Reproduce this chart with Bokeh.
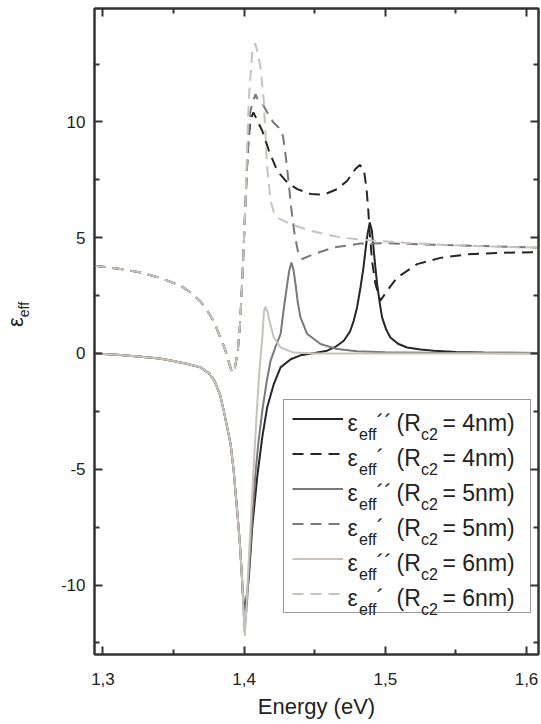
import math
from bokeh.plotting import figure
from bokeh.layouts import row
from bokeh.models import (Range1d, FixedTicker, LinearAxis, Legend, LegendItem, Label,
                          CustomJSTickFormatter)
from bokeh.embed import file_html
from bokeh.resources import INLINE

# ---------------- data ----------------
# shared left branch of the solid curves (eps'')
x_solid_left = [1.294, 1.31, 1.327, 1.34, 1.35, 1.36, 1.369, 1.375, 1.379, 1.383,
                1.3856, 1.388, 1.3904, 1.3925, 1.394, 1.3955, 1.397, 1.398, 1.399]
y_solid_left = [0.0, -0.05, -0.14, -0.22, -0.32, -0.45, -0.60, -0.85, -1.18, -1.80,
                -2.48, -3.2, -3.91, -5.0, -6.07, -7.1, -8.23, -9.2, -10.3]

# eps'' right branches
x_im_4 = [1.4003, 1.4015, 1.4033, 1.4057, 1.4092, 1.4128, 1.4163, 1.421, 1.4258, 1.433,
          1.4399, 1.45, 1.4588, 1.465, 1.4706, 1.475, 1.4776, 1.48, 1.4824, 1.4845,
          1.4859, 1.4875, 1.489, 1.4905, 1.4918, 1.493, 1.4942, 1.496, 1.4977, 1.5005,
          1.5036, 1.509, 1.5154, 1.525, 1.5343, 1.55, 1.5696, 1.59, 1.609]
y_im_4 = [-11.1, -10.6, -9.67, -7.52, -5.36, -3.63, -2.33, -1.32, -0.6, -0.25,
          -0.08, 0.02, 0.12, 0.3, 0.55, 0.95, 1.41, 2.0, 2.85, 3.7,
          4.44, 5.2, 5.66, 5.3, 4.44, 3.7, 3.0, 2.2, 1.56, 1.05,
          0.69, 0.42, 0.26, 0.17, 0.12, 0.07, 0.04, 0.03, 0.02]

x_im_5 = [1.4003, 1.402, 1.404, 1.406, 1.408, 1.41, 1.413, 1.416, 1.4187, 1.422,
          1.4258, 1.428, 1.4305, 1.432, 1.4335, 1.435, 1.4364, 1.438, 1.4399, 1.4447,
          1.4541, 1.4659, 1.48, 1.5, 1.53, 1.609]
y_im_5 = [-12.0, -10.8, -8.8, -6.9, -5.2, -3.9, -2.4, -1.2, -0.32, 0.25,
          0.84, 1.9, 3.0, 3.6, 3.93, 3.6, 3.0, 2.2, 1.56, 0.84,
          0.41, 0.19, 0.1, 0.05, 0.03, 0.01]

x_im_6 = [1.4005, 1.402, 1.4045, 1.407, 1.409, 1.4105, 1.412, 1.413, 1.414, 1.4151,
          1.4165, 1.418, 1.421, 1.4258, 1.4352, 1.45, 1.609]
y_im_6 = [-12.2, -10.4, -7.5, -4.6, -2.5, -1.0, 0.1, 0.8, 1.8, 2.02,
          1.8, 1.4, 0.69, 0.26, 0.04, 0.0, 0.0]

# shared left branch of the dashed curves (eps')
x_re_left = [1.294, 1.3125, 1.3267, 1.3408, 1.355, 1.3625, 1.3691, 1.374, 1.3786, 1.383,
             1.3868, 1.3895, 1.3915, 1.3935, 1.3955, 1.397, 1.398, 1.399, 1.4, 1.401]
y_re_left = [3.79, 3.65, 3.50, 3.26, 2.93, 2.62, 2.25, 1.84, 1.38, 0.7,
             0.12, -0.45, -0.83, -0.6, 0.1, 1.2, 2.3, 3.6, 5.1, 6.6]

x_re_4 = [1.402, 1.403, 1.4045, 1.4066, 1.409, 1.4128, 1.4175, 1.4234, 1.4305, 1.4376,
          1.447, 1.4564, 1.4659, 1.473, 1.4788, 1.4819, 1.4847, 1.4866, 1.4878, 1.489,
          1.4906, 1.493, 1.4965, 1.5013, 1.5084, 1.5225, 1.539, 1.5579, 1.5815, 1.609]
y_re_4 = [8.0, 9.1, 10.1, 10.41, 10.1, 9.62, 8.76, 7.89, 7.39, 7.10,
          6.89, 6.86, 7.10, 7.46, 7.97, 8.14, 7.97, 7.17, 6.31, 5.16,
          4.0, 3.0, 2.28, 2.71, 3.28, 3.86, 4.13, 4.28, 4.35, 4.38]

x_re_5 = [1.402, 1.403, 1.4045, 1.408, 1.4095, 1.4128, 1.4165, 1.4205, 1.4245, 1.4275,
          1.4295, 1.4315, 1.4333, 1.4357, 1.438, 1.4411, 1.4493, 1.4635, 1.4824, 1.5013,
          1.5343, 1.5696, 1.609]
y_re_5 = [8.0, 9.2, 10.5, 11.2, 11.0, 10.8, 10.4, 10.0, 9.75, 9.4,
          8.5, 7.4, 6.31, 5.16, 4.44, 4.08, 4.29, 4.58, 4.75, 4.76,
          4.70, 4.64, 4.57]

x_re_6 = [1.402, 1.4033, 1.4057, 1.4078, 1.4095, 1.4116, 1.4139, 1.4151, 1.4163, 1.4187,
          1.421, 1.4234, 1.4328, 1.447, 1.4682, 1.4918, 1.5225, 1.5579, 1.609]
y_re_6 = [8.6, 11.0, 13.0, 13.4, 13.0, 12.35, 10.92, 9.48, 8.03, 6.60,
          6.1, 5.87, 5.59, 5.30, 5.01, 4.87, 4.75, 4.65, 4.57]

x_ticks = [1.3, 1.4, 1.5, 1.6]
x_tick_labels = ["1,3", "1,4", "1,5", "1,6"]
x_minor = [1.35, 1.45, 1.55]
y_ticks = [-10, -5, 0, 5, 10]
y_tick_labels = ["-10", "-5", "0", "5", "10"]
y_minor = [-12.5, -7.5, -2.5, 2.5, 7.5, 12.5]

radii = ["4nm", "5nm", "6nm"]
colors = ["#262626", "#7a7878", "#c9c1ba"]

# ---------------- layout constants ----------------
FONT = "Liberation Sans"
AX = "#333333"
TXT = "#222222"
W, H = 540, 722
SIDE_W = 40                      # narrow strip on the left holding the y title
FRAME_LEFT, FRAME_RIGHT, FRAME_TOP, FRAME_BOTTOM = 94, 538, 8, 654

# ---------------- y-axis title strip ----------------
side = figure(width=SIDE_W, height=H, output_backend="svg", toolbar_location=None,
              x_axis_type=None, y_axis_type=None,
              x_range=Range1d(0, SIDE_W), y_range=Range1d(0, H),
              min_border=0, min_border_left=0, min_border_right=0,
              min_border_top=0, min_border_bottom=0,
              background_fill_color="white", border_fill_color="white")
side.grid.visible = False
side.outline_line_color = None
side.add_layout(Label(x=15, y=H - 356, text="ε", text_font=FONT, text_font_size="22px",
                      angle=math.pi / 2, text_color=TXT, text_baseline="alphabetic",
                      text_align="left"))
side.add_layout(Label(x=23, y=H - 345, text="eff", text_font=FONT, text_font_size="14px",
                      angle=math.pi / 2, text_color=TXT, text_baseline="alphabetic",
                      text_align="left"))

# ---------------- main figure ----------------
p = figure(width=W - SIDE_W, height=H, output_backend="svg", toolbar_location=None,
           x_range=Range1d(1.294, 1.6085), y_range=Range1d(-13.0, 14.9),
           min_border_left=FRAME_LEFT - SIDE_W, min_border_right=W - FRAME_RIGHT,
           min_border_top=FRAME_TOP, min_border_bottom=H - FRAME_BOTTOM,
           background_fill_color="white", border_fill_color="white")
p.xgrid.visible = False
p.ygrid.visible = False
p.outline_line_color = AX
p.outline_line_width = 2

p.xaxis.axis_label = "Energy (eV)"
p.xaxis.axis_label_text_font = FONT
p.xaxis.axis_label_text_font_size = "22px"
p.xaxis.axis_label_text_font_style = "normal"
p.xaxis.axis_label_text_color = TXT
p.xaxis.axis_label_standoff = 6


def style_axis(ax, ticks, minor, show_labels, standoff):
    ax.ticker = FixedTicker(ticks=ticks, minor_ticks=minor)
    ax.axis_line_color = AX
    ax.axis_line_width = 2
    ax.major_tick_line_color = AX
    ax.major_tick_line_width = 2
    ax.minor_tick_line_color = AX
    ax.minor_tick_line_width = 2
    ax.major_tick_in = 8
    ax.major_tick_out = 0
    ax.minor_tick_in = 5
    ax.minor_tick_out = 0
    ax.major_label_text_font = FONT
    ax.major_label_text_color = TXT
    ax.major_label_text_font_size = "17px"
    ax.major_label_standoff = standoff
    if not show_labels:
        ax.formatter = CustomJSTickFormatter(code="return ''")
        ax.major_label_standoff = 0


style_axis(p.xaxis[0], x_ticks, x_minor, True, 18)
p.xaxis[0].major_label_overrides = dict(zip(x_ticks, x_tick_labels))
style_axis(p.yaxis[0], y_ticks, y_minor, True, 9)
p.yaxis[0].major_label_overrides = dict(zip(y_ticks, y_tick_labels))

top_ax = LinearAxis()
style_axis(top_ax, x_ticks, x_minor, False, 0)
p.add_layout(top_ax, "above")
right_ax = LinearAxis()
style_axis(right_ax, y_ticks, y_minor, False, 0)
p.add_layout(right_ax, "right")

# ---------------- curves ----------------
solid_x = [x_solid_left + x_im_4, x_solid_left + x_im_5, x_solid_left + x_im_6]
solid_y = [y_solid_left + y_im_4, y_solid_left + y_im_5, y_solid_left + y_im_6]
dash_x = [x_re_left + x_re_4, x_re_left + x_re_5, x_re_left + x_re_6]
dash_y = [y_re_left + y_re_4, y_re_left + y_re_5, y_re_left + y_re_6]

items = []
for i in range(3):
    rs = p.line(solid_x[i], solid_y[i], line_color=colors[i], line_width=2)
    rd = p.line(dash_x[i], dash_y[i], line_color=colors[i], line_width=2, line_dash="11 7")
    items.append(LegendItem(label=" ", renderers=[rs]))
    items.append(LegendItem(label=" ", renderers=[rd]))

legend = Legend(items=items, location=(189, 41), orientation="vertical",
                padding=8, spacing=14, glyph_width=51, glyph_height=21,
                label_height=21, label_width=176, label_standoff=3,
                label_text_font_size="10px",
                border_line_color=AX, border_line_width=1.5,
                background_fill_alpha=0.0)
p.add_layout(legend)

# legend texts with subscripts (frame-relative screen units, y from frame bottom)
primes = ["´´", "´"]
for i in range(6):
    line_y = 417.5 + 35 * i
    base = FRAME_BOTTOM - (line_y + 4.5)
    sub = FRAME_BOTTOM - (line_y + 16)
    rad = radii[i // 2]
    pieces = [
        ("ε", 347, base, "23px"),
        ("eff", 358.5, sub, "16px"),
        (primes[i % 2], 376, base, "23px"),
        ("(R", 396, base, "23px"),
        ("c2", 420.5, sub, "16px"),
        ("= " + rad + ")", 442, base, "23px"),
    ]
    for txt, px, py, fs in pieces:
        p.add_layout(Label(x=px - FRAME_LEFT, y=py, x_units="screen", y_units="screen",
                           text=txt, text_font=FONT, text_font_size=fs,
                           text_color=TXT, text_baseline="alphabetic",
                           text_align="left", level="overlay"))

layout = row(side, p, spacing=0)
open("out.html", "w").write(file_html(layout, INLINE))
